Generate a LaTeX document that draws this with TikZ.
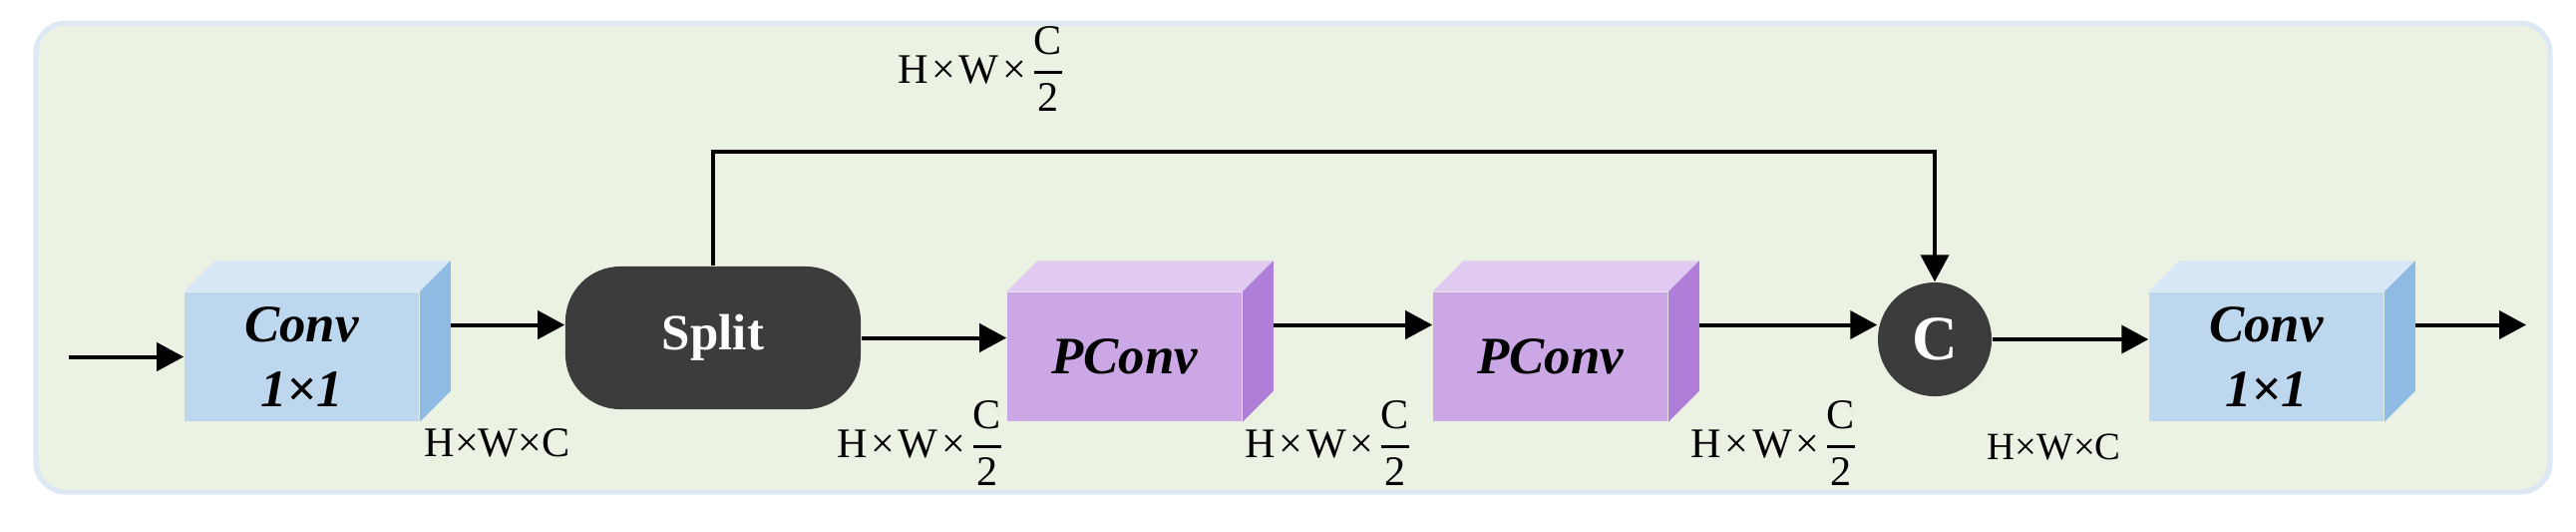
\documentclass[tikz,border=0pt]{standalone}
\usepackage{amsmath}
\usepackage{fontspec}
\setmainfont{Liberation Serif}
\usetikzlibrary{arrows.meta,calc}
\definecolor{bggreen}{HTML}{EBF2E3}
\definecolor{bgedge}{HTML}{DCE8F4}
\definecolor{convfront}{HTML}{BDD7EE}
\definecolor{convtop}{HTML}{D8E7F6}
\definecolor{convside}{HTML}{8FBAE3}
\definecolor{pfront}{HTML}{CBA8E5}
\definecolor{ptop}{HTML}{E1CBF2}
\definecolor{pside}{HTML}{AF7ED8}
\definecolor{darkfill}{HTML}{3C3C3C}
\newcommand\mycube[3]{%
  \fill[#2] (#1.north west) -- ++(31,-31) -- ($(#1.north east)+(31,-31)$) -- (#1.north east) -- cycle;
  \fill[#3] (#1.north east) -- ++(31,-31) -- ($(#1.south east)+(31,-31)$) -- (#1.south east) -- cycle;}
\newcommand\hwx{H\kern1pt×\kern1pt W\kern1pt×\kern1pt}
\newcommand\halfc{$\genfrac{}{}{0.9pt}{0}{\mbox{C}}{\mbox{2}}$}
\begin{document}
\begin{tikzpicture}[x=0.01cm,y=-0.01cm,
  arr/.style={line width=0.04cm,-{Triangle[length=0.27cm,width=0.28cm]}},
  front/.style={minimum width=2.35cm,minimum height=1.29cm,inner sep=0pt,align=center,
    font=\fontsize{15}{18.5}\selectfont\bfseries\itshape},
  lab/.style={inner sep=0pt,anchor=base west,font=\fontsize{12}{14}\selectfont},
  darknode/.style={fill=darkfill,text=white,inner sep=0pt,font=\bfseries}]
\useasboundingbox (0,0) rectangle (2583,532);
% background panel
\draw[fill=bggreen,draw=bgedge,line width=0.05cm,rounded corners=0.3cm] (36,23) rectangle (2557,493);
% blocks
\node[front,fill=convfront] (conv1) at (302.5,357.5) {Conv\\1×1};
\mycube{conv1}{convtop}{convside}
\node[darknode,minimum width=2.96cm,minimum height=1.43cm,rounded corners=0.55cm,
  font=\fontsize{14.5}{17}\selectfont\bfseries] (split) at (715,338.5) {Split};
\node[front,fill=pfront] (pconv1) at (1127.5,357.5) {PConv};
\mycube{pconv1}{ptop}{pside}
\node[front,fill=pfront] (pconv2) at (1554.5,357.5) {PConv};
\mycube{pconv2}{ptop}{pside}
\node[darknode,circle,minimum size=1.14cm,font=\fontsize{18}{20}\selectfont\bfseries] (cat) at (1940,340) {C};
\node[front,fill=convfront] (conv2) at (2272.5,357.5) {Conv\\1×1};
\mycube{conv2}{convtop}{convside}
% helper coordinates
\coordinate (in) at (69,357.5);
\coordinate (out) at (2533,325.5);
\coordinate (conv1out) at ($(conv1.east)+(31,-32)$);
\coordinate (pconv1out) at ($(pconv1.east)+(31,-32)$);
\coordinate (pconv2out) at ($(pconv2.east)+(31,-32)$);
\coordinate (conv2out) at ($(conv2.east)+(31,-32)$);
\coordinate (looptop) at (1300,152);
% connectors
\draw[arr] (in) -- (conv1.west);
\draw[arr] (conv1out) -- (conv1out -| split.west);
\draw[arr] (split.east) -- (split.east -| pconv1.west);
\draw[arr] (pconv1out) -- (pconv1out -| pconv2.west);
\draw[arr] (pconv2out) -- (pconv2out -| cat.west);
\draw[arr] (cat.east) -- (cat.east -| conv2.west);
\draw[arr] (conv2out) -- (out);
\draw[arr] (split.north) |- (looptop) -| (cat.north);
% labels
\node[lab] (l1) at (425,457) {H×W×C};
\node[lab] (l2) at (839,458) {\hwx\halfc};
\node[lab] (l3) at (1248,458) {\hwx\halfc};
\node[lab] (l4) at (1695,458) {\hwx\halfc};
\node[lab,font=\fontsize{11}{13}\selectfont] (l5) at (1992,460) {H×W×C};
\node[lab] (l6) at (900,83) {\hwx\halfc};
\end{tikzpicture}
\end{document}
